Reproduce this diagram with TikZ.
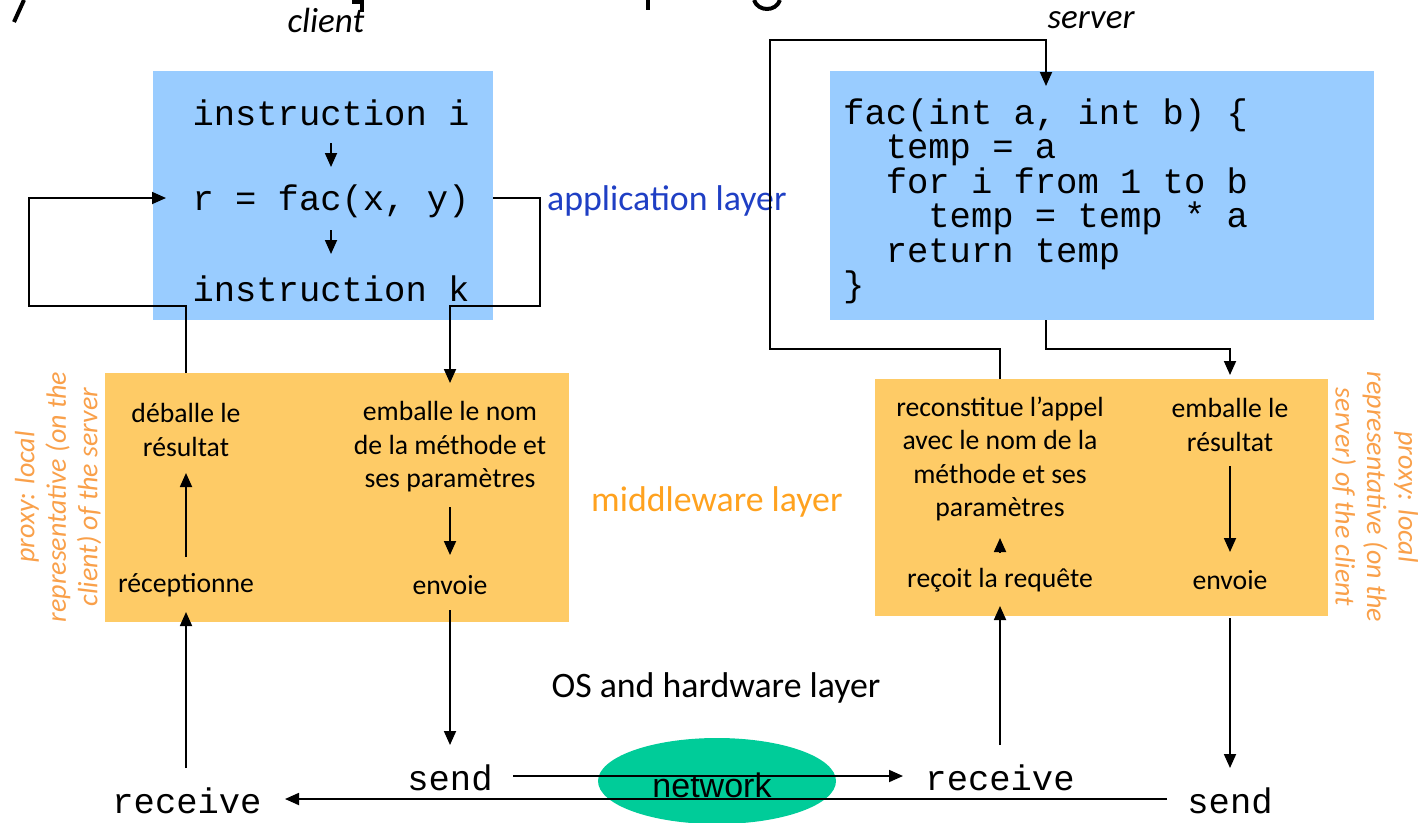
\documentclass[tikz,border=0pt]{standalone}
\usepackage{fontspec}
\setmainfont{Carlito}
\newfontfamily\codefont{Liberation Mono}
\newfontfamily\netfont{Liberation Sans}
\usetikzlibrary{arrows.meta,shapes.geometric}
\definecolor{codebg}{HTML}{99CCFF}
\definecolor{mwbg}{HTML}{FECB66}
\definecolor{netgreen}{HTML}{00CC99}
\definecolor{appblue}{HTML}{1F3FC4}
\definecolor{mworange}{HTML}{FFA21F}
\definecolor{proxyorange}{HTML}{F9A04A}
\tikzset{
  code/.style={inner sep=0pt, font=\codefont\fontsize{35.5}{34.4}\selectfont, align=left},
  codec/.style={inner sep=0pt, font=\codefont\fontsize{35.5}{34.4}\selectfont},
  body/.style={inner sep=0pt, font=\fontsize{27.7}{33.5}\selectfont, align=center},
  label/.style={inner sep=0pt, font=\fontsize{35.8}{40}\selectfont},
  side/.style={inner sep=0pt, font=\itshape\fontsize{35}{40}\selectfont},
  proxy/.style={inner sep=0pt, text=proxyorange, font=\itshape\fontsize{28}{31.5}\selectfont, align=center},
  link/.style={line width=1.8pt, -{Triangle[length=14pt,width=12pt]}},
  frag/.style={line width=4pt}
}
\begin{document}
\begin{tikzpicture}[x=1pt,y=-1pt]
\useasboundingbox (0,0) rectangle (1423,822);

% remnants of the heading above
\draw[frag] (24,0) -- (14,22);
\draw[frag] (362,0) -- (362,12) (352,2) -- (362,2);
\draw[frag] (648,0) -- (648,10);
\draw[frag] (754,0) .. controls (758,12) and (776,12) .. (780,0);

% side captions
\node[side] (client) at (326,20) {client};
\node[side] (server) at (1091,20) {server};

% application layer boxes
\fill[codebg] (153,71) rectangle (493,320);
\fill[codebg] (830,71) rectangle (1374,320);

% middleware layer boxes
\fill[mwbg] (105,373) rectangle (569,622);
\fill[mwbg] (875,379) rectangle (1328,616);

% network cloud
\node[ellipse, fill=netgreen, minimum width=238pt, minimum height=86pt, inner sep=0pt] (net) at (717,781) {};
\node[inner sep=0pt, font=\netfont\fontsize{34}{36}\selectfont] (nettext) at (712,785) {network};

% client code
\node[codec] (ii) at (331,113) {instruction i};
\node[codec] (call) at (331,201) {r = fac(x, y)};
\node[codec] (ik) at (331,289) {instruction k};
\draw[link] (331,143) -- (331,167);
\draw[link] (331,230) -- (331,254);

% server code
\node[code, anchor=north west] (fac) at (843,98.5) {fac(int a, int b) \{\\
\ \ temp = a\\
\ \ for i from 1 to b\\
\ \ \ \ temp = temp * a\\
\ \ return temp\\
\}};

% layer captions
\node[label, text=appblue, anchor=west] (app) at (547,201) {application layer};
\node[label, text=mworange, anchor=west] (mw) at (591,502) {middleware layer};
\node[label] (os) at (716,688) {OS and hardware layer};

% proxies
\node[proxy, rotate=90] (cproxy) at (58,497) {proxy: local\\representative (on the\\client) of the server};
\node[proxy, rotate=-90] (sproxy) at (1375,497) {proxy: local\\representative (on the\\server) of the client};

% client middleware steps
\node[body] (unpack) at (186,430) {déballe le\\résultat};
\node[body] (recv1) at (186,585) {réceptionne};
\node[body] (pack) at (450,447) {emballe le nom\\de la méthode et\\ses paramètres};
\node[body] (send1) at (450,585) {envoie};

% server middleware steps
\node[body] (rebuild) at (1000,459) {reconstitue l’appel\\avec le nom de la\\méthode et ses\\paramètres};
\node[body] (recv2) at (1000,580) {reçoit la requête};
\node[body] (pack2) at (1230,425) {emballe le\\résultat};
\node[body] (send2) at (1230,580) {envoie};

% transport endpoints
\node[codec] (crecv) at (187,801) {receive};
\node[codec] (csend) at (450,778) {send};
\node[codec] (srecv) at (1000,778) {receive};
\node[codec] (ssend) at (1230,801) {send};

% client: result path back into the call
\coordinate (c1) at (186,373);
\draw[link] (c1) -- (186,306) -- (29,306) -- (29,198) -- (166,198);
% client: call goes down to the proxy
\draw[link] (493,198) -- (540,198) -- (540,306) -- (450,306) -- (450,383);
\draw[link] (186,557) -- (186,473);
\draw[link] (450,507) -- (450,555);
\draw[link] (186,768) -- (186,612);
\draw[link] (450,610) -- (450,745);

% network messages
\draw[link] (513,776) -- (903,776);
\draw[link] (1167,799) -- (285,799);

% server side
\draw[link] (1000,379) -- (1000,349) -- (770,349) -- (770,40) -- (1046,40) -- (1046,86);
\draw[link] (1046,320) -- (1046,349) -- (1230,349) -- (1230,375);
\draw[link] (1000,553) -- (1000,538);
\draw[link] (1230,466) -- (1230,552);
\draw[link] (1000,745) -- (1000,606);
\draw[link] (1230,618) -- (1230,768);
\end{tikzpicture}
\end{document}
